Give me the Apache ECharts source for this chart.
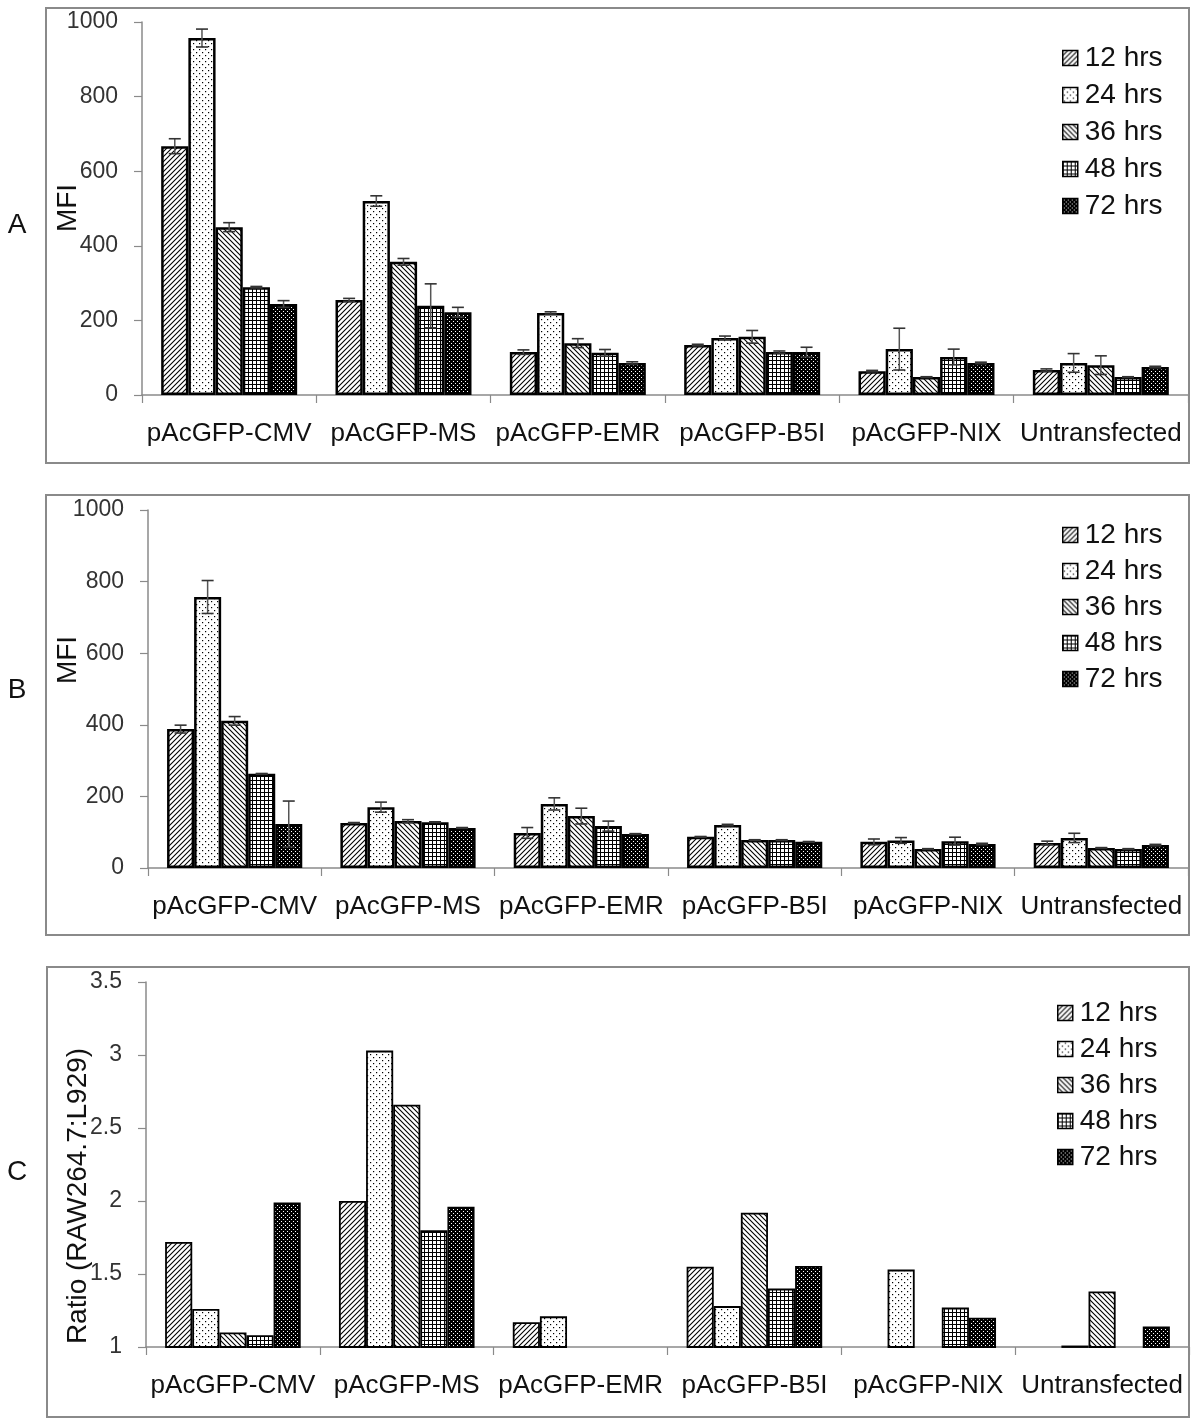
<!DOCTYPE html>
<html><head><meta charset="utf-8">
<script src="https://cdn.jsdelivr.net/npm/echarts@6/dist/echarts.min.js"></script>
<style>html,body{margin:0;padding:0;background:#fff}#c{width:1200px;height:1426px}</style>
</head><body><div id="c"></div>
<script>
// ---------- data ----------
const categories = ['pAcGFP-CMV','pAcGFP-MS','pAcGFP-EMR','pAcGFP-B5I','pAcGFP-NIX','Untransfected'];
const seriesNames = ['12 hrs','24 hrs','36 hrs','48 hrs','72 hrs'];
const mfiTicks = [0,200,400,600,800,1000];
const ratioTicks = [1,1.5,2,2.5,3,3.5];

// Panel A (MFI)
const a12 = [667, 255, 115, 134, 64, 67];
const a24 = [957, 520, 220, 153, 123, 86];
const a36 = [450, 357, 139, 156, 48, 80];
const a48 = [289, 239, 113, 115, 102, 48];
const a72 = [244, 222, 86, 115, 86, 75];
const aErr12 = [20, 4, 6, 2, 2, 3];
const aErr24 = [24, 14, 3, 5, 56, 25];
const aErr36 = [12, 9, 12, 17, 1, 25];
const aErr48 = [2, 59, 9, 3, 21, 1];
const aErr72 = [9, 13, 3, 13, 2, 2];

// Panel B (MFI)
const b12 = [388, 126, 98, 87, 73, 70];
const b24 = [757, 170, 179, 120, 77, 84];
const b36 = [411, 131, 145, 78, 53, 56];
const b48 = [263, 128, 117, 78, 75, 53];
const b72 = [123, 112, 95, 73, 67, 64];
const bErr12 = [11, 1, 15, 1, 8, 5];
const bErr24 = [46, 14, 17, 2, 8, 13];
const bErr36 = [12, 4, 22, 1, 1, 1];
const bErr48 = [1, 1, 14, 1, 11, 1];
const bErr72 = [64, 1, 1, 1, 2, 2];

// Panel C (ratio RAW264.7 : L929)
const c12 = [1.72, 2.00, 1.17, 1.55, null, null];
const c24 = [1.26, 3.03, 1.21, 1.28, 1.53, 1.01];
const c36 = [1.10, 2.66, null, 1.92, null, 1.38];
const c48 = [1.08, 1.80, null, 1.40, 1.27, null];
const c72 = [1.99, 1.96, null, 1.555, 1.20, 1.14];

// ---------- patterns ----------
function makePattern(kind) {
  const c = document.createElement('canvas');
  let w = 5, h = 5;
  if (kind === 'dots') { w = 6; h = 6; }
  if (kind === 'grid') { w = 4; h = 4; }
  if (kind === 'dark') { w = 4; h = 4; }
  c.width = w; c.height = h;
  const g = c.getContext('2d');
  g.fillStyle = '#fff'; g.fillRect(0, 0, w, h);
  g.strokeStyle = '#000'; g.fillStyle = '#000';
  if (kind === 'fwd') {
    g.lineWidth = 1.1;
    g.beginPath();
    g.moveTo(0, h); g.lineTo(w, 0);
    g.moveTo(-1, 1); g.lineTo(1, -1);
    g.moveTo(w - 1, h + 1); g.lineTo(w + 1, h - 1);
    g.stroke();
  } else if (kind === 'back') {
    g.lineWidth = 1.1;
    g.beginPath();
    g.moveTo(0, 0); g.lineTo(w, h);
    g.moveTo(w - 1, -1); g.lineTo(w + 1, 1);
    g.moveTo(-1, h - 1); g.lineTo(1, h + 1);
    g.stroke();
  } else if (kind === 'dots') {
    g.fillRect(1, 1, 1.2, 1.2);
    g.fillRect(4, 4, 1.2, 1.2);
  } else if (kind === 'grid') {
    g.fillRect(0, 0, w, 1);
    g.fillRect(0, 0, 1, h);
  } else if (kind === 'dark') {
    g.fillRect(0, 0, w, h);
    g.fillStyle = '#fff';
    g.fillRect(1, 1, 1, 1);
    g.fillRect(3, 3, 1, 1);
  }
  return { image: c, repeat: 'repeat' };
}
const patterns = [makePattern('fwd'), makePattern('dots'), makePattern('back'), makePattern('grid'), makePattern('dark')];

// ---------- layout ----------
const FONT = 'Liberation Sans, Arial, sans-serif';
const CAT_GAP = 0.22;
const grids = [
  { left: 142, top: 22, width: 1046, height: 373 },
  { left: 148, top: 510, width: 1040, height: 358 },
  { left: 146, top: 982, width: 1043, height: 365 }
];

function xAxisFor(i) {
  return {
    type: 'category', gridIndex: i, data: categories,
    axisLine: { onZero: false, lineStyle: { color: '#8a8a8a', width: 1.5 } },
    axisTick: { show: true, inside: false, length: 8, alignWithLabel: false, lineStyle: { color: '#8a8a8a', width: 1.2 } },
    axisLabel: { interval: 0, margin: 26, fontSize: 26, color: '#111', fontFamily: FONT }
  };
}
function yAxisFor(i, ticks) {
  return {
    type: 'value', gridIndex: i,
    min: ticks[0], max: ticks[ticks.length - 1], interval: ticks[1] - ticks[0],
    splitLine: { show: false },
    axisLine: { show: true, lineStyle: { color: '#8a8a8a', width: 1.5 } },
    axisTick: { show: true, inside: false, length: 8, lineStyle: { color: '#8a8a8a', width: 1.2 } },
    axisLabel: { margin: 24, fontSize: 23, color: '#333', fontFamily: FONT, formatter: function (v) { return String(v); } }
  };
}

const series = [];
function addBars(panel, arrays, borderW) {
  arrays.forEach((arr, si) => {
    series.push({
      type: 'bar', name: seriesNames[si], xAxisIndex: panel, yAxisIndex: panel,
      data: arr, barGap: '0%', barCategoryGap: (CAT_GAP * 100) + '%',
      itemStyle: { color: patterns[si], borderColor: '#000', borderWidth: borderW },
      emphasis: { disabled: true }, z: 2
    });
  });
}
function addErrors(panel, vals, errs) {
  vals.forEach((arr, si) => {
    series.push({
      type: 'custom', name: 'err' + panel + '_' + si, xAxisIndex: panel, yAxisIndex: panel,
      silent: true, z: 5,
      data: arr.map((v, i) => [i, v, errs[si][i]]),
      encode: { x: 0, y: 1 },
      renderItem: function (params, api) {
        const ci = api.value(0), v = api.value(1), e = api.value(2);
        if (!(e > 0)) return null;
        const band = api.size([1, 0])[0];
        const bw = band * (1 - CAT_GAP) / 5;
        const cx = api.coord([ci, v])[0] + (si - 2) * bw;
        const top = api.coord([ci, v + e])[1];
        const bot = api.coord([ci, Math.max(0, v - e)])[1];
        const cap = 6;
        const st = { stroke: '#333', lineWidth: 1.6 };
        return { type: 'group', children: [
          { type: 'line', shape: { x1: cx, y1: top, x2: cx, y2: bot }, style: { stroke: '#555', lineWidth: 1.5 } },
          { type: 'line', shape: { x1: cx - cap, y1: top, x2: cx + cap, y2: top }, style: st },
          { type: 'line', shape: { x1: cx - cap, y1: bot, x2: cx + cap, y2: bot }, style: st }
        ]};
      }
    });
  });
}

addBars(0, [a12, a24, a36, a48, a72], 2.5);
addErrors(0, [a12, a24, a36, a48, a72], [aErr12, aErr24, aErr36, aErr48, aErr72]);
addBars(1, [b12, b24, b36, b48, b72], 2.5);
addErrors(1, [b12, b24, b36, b48, b72], [bErr12, bErr24, bErr36, bErr48, bErr72]);
addBars(2, [c12, c24, c36, c48, c72], 1.8);

function legendFor(left, top, gap) {
  return {
    data: seriesNames, orient: 'vertical', left: left, top: top,
    icon: 'rect', itemWidth: 15, itemHeight: 15, itemGap: gap,
    selectedMode: false,
    itemStyle: { borderColor: '#000', borderWidth: 1.5 },
    textStyle: { fontSize: 28, lineHeight: 28, color: '#111', fontFamily: FONT, padding: [0, 0, 0, 2] }
  };
}

function boxRect(x, y, w, h) {
  return { type: 'rect', shape: { x: x, y: y, width: w, height: h }, style: { fill: 'none', stroke: '#8a8a8a', lineWidth: 2 }, silent: true, z: -1 };
}
function txt(t, x, y, size, rot) {
  return { type: 'text', x: x, y: y, rotation: rot || 0,
    style: { text: t, fontSize: size, fontFamily: FONT, fill: '#111', align: 'center', verticalAlign: 'middle' }, silent: true, z: 10 };
}

const option = {
  animation: false,
  backgroundColor: '#fff',
  grid: grids,
  xAxis: [xAxisFor(0), xAxisFor(1), xAxisFor(2)],
  yAxis: [yAxisFor(0, mfiTicks), yAxisFor(1, mfiTicks), yAxisFor(2, ratioTicks)],
  legend: [legendFor(1057, 39, 9), legendFor(1057, 516, 8), legendFor(1052, 994, 8)],
  series: series,
  graphic: [
    boxRect(46, 8, 1143, 455),
    boxRect(46, 495, 1143, 440),
    boxRect(47, 967, 1142, 450),
    txt('A', 17, 225, 28),
    txt('B', 17, 690, 28),
    txt('C', 17, 1172, 28),
    txt('MFI', 68, 208, 28, Math.PI / 2),
    txt('MFI', 68, 660, 28, Math.PI / 2),
    txt('Ratio (RAW264.7:L929)', 78, 1196, 28, Math.PI / 2)
  ]
};

const chart = echarts.init(document.getElementById('c'), null, { renderer: 'canvas' });
chart.setOption(option);
</script>
</body></html>
